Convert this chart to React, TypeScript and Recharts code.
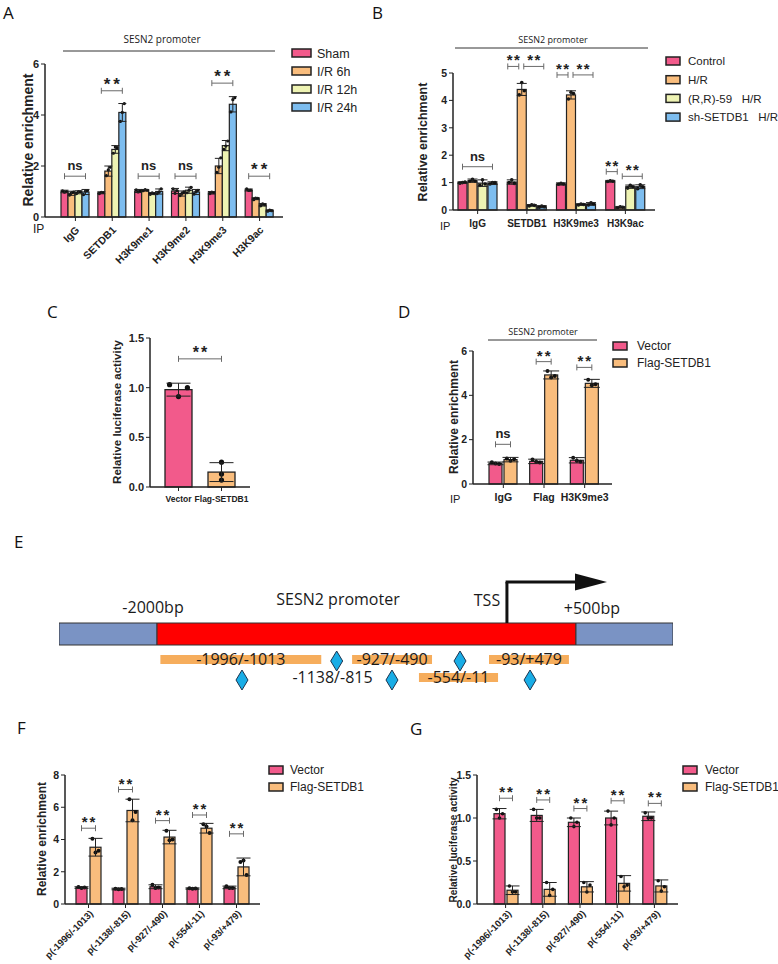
import React from 'react';
import {
  BarChart,
  Bar,
  XAxis,
  YAxis,
  ErrorBar,
  ReferenceLine,
  ReferenceArea,
  ReferenceDot,
  ComposedChart,
  Scatter,
} from 'recharts';

const FONT = '"Liberation Sans", Arial, Helvetica, sans-serif';
const SANS = '"Open Sans", "Noto Sans", sans-serif';
const INK = '#222222';
const PINK = '#f25a8b';
const ORANGE = '#f9bd7d';
const YELLOW = '#eef3b3';
const BLUE = '#7dbdef';

// ---- A: ChIP, I/R time course ----
const aCats = ['IgG', 'SETDB1', 'H3K9me1', 'H3K9me2', 'H3K9me3', 'H3K9ac'];
const aSham = [1.0, 0.95, 1.02, 1.02, 0.95, 1.06];
const aShamErr = [0.05, 0.04, 0.06, 0.1, 0.05, 0.04];
const aShamReps = [[1.03, 0.97, 1.0], [0.92, 0.97, 0.96], [1.06, 0.98, 1.02], [1.1, 0.93, 1.04], [0.92, 0.98, 0.96], [1.1, 1.04, 1.05]];
const aIr6 = [0.93, 1.8, 1.05, 0.92, 2.0, 0.72];
const aIr6Err = [0.08, 0.2, 0.03, 0.1, 0.3, 0.04];
const aIr6Reps = [[0.86, 0.95, 0.98], [1.62, 1.85, 1.95], [1.03, 1.07, 1.05], [0.84, 0.93, 0.99], [1.75, 1.95, 2.32], [0.68, 0.74, 0.73]];
const aIr12 = [0.97, 2.65, 0.92, 1.05, 2.8, 0.48];
const aIr12Err = [0.06, 0.15, 0.04, 0.12, 0.2, 0.05];
const aIr12Reps = [[0.92, 1.0, 0.99], [2.5, 2.75, 2.72], [0.89, 0.95, 0.92], [0.95, 1.05, 1.16], [2.65, 2.78, 2.98], [0.44, 0.52, 0.48]];
const aIr24 = [0.98, 4.1, 1.0, 0.98, 4.42, 0.25];
const aIr24Err = [0.1, 0.35, 0.1, 0.1, 0.3, 0.03];
const aIr24Reps = [[0.88, 1.02, 1.04], [3.75, 4.1, 4.45], [0.92, 0.98, 1.1], [0.9, 1.0, 1.05], [4.12, 4.6, 4.68], [0.23, 0.27, 0.25]];

// ---- B: H/R with inhibitor / knockdown ----
const bCats = ['IgG', 'SETDB1', 'H3K9me3', 'H3K9ac'];
const bControl = [1.0, 1.02, 0.95, 1.05];
const bControlErr = [0.03, 0.08, 0.04, 0.03];
const bControlReps = [[0.98, 1.0, 1.02], [1.0, 1.1, 0.97], [0.94, 0.97, 0.95], [1.04, 1.07, 1.05]];
const bHR = [1.07, 4.4, 4.2, 0.1];
const bHRErr = [0.06, 0.22, 0.15, 0.03];
const bHRReps = [[1.05, 1.12, 1.05], [4.2, 4.65, 4.35], [4.05, 4.3, 4.25], [0.08, 0.12, 0.1]];
const bRR = [0.98, 0.17, 0.2, 0.85];
const bRRErr = [0.12, 0.03, 0.03, 0.06];
const bRRReps = [[0.9, 1.1, 0.95], [0.15, 0.19, 0.17], [0.18, 0.22, 0.2], [0.8, 0.9, 0.85]];
const bSh = [0.98, 0.12, 0.22, 0.85];
const bShErr = [0.05, 0.04, 0.05, 0.07];
const bShReps = [[0.95, 1.0, 1.0], [0.1, 0.14, 0.12], [0.18, 0.26, 0.22], [0.78, 0.92, 0.85]];

// ---- C: luciferase ----
const cCats = ['Vector', 'Flag-SETDB1'];
const cVals = [0.98, 0.15];
const cErrs = [0.065, 0.095];
const cReps = [[1.03, 0.91, 1.0], [0.25, 0.13, 0.07]];
const cColors = [PINK, ORANGE];

// ---- D: ChIP, Flag-SETDB1 ----
const dCats = ['IgG', 'Flag', 'H3K9me3'];
const dVector = [0.93, 1.02, 1.07];
const dVectorErr = [0.06, 0.1, 0.12];
const dVectorReps = [[0.98, 0.92, 0.9], [1.1, 1.0, 0.97], [1.18, 1.05, 1.0]];
const dFlag = [1.1, 4.92, 4.54];
const dFlagErr = [0.1, 0.18, 0.18];
const dFlagReps = [[1.15, 1.05, 1.12], [5.1, 4.8, 4.87], [4.7, 4.45, 4.5]];

// ---- E: promoter map (schematic bp scale, red box = -2000..+500) ----
const eBlocks = [
  { x1: -2585, x2: -2000, color: '#7a93c4' },
  { x1: -2000, x2: 500, color: '#ff0000' },
  { x1: 500, x2: 1079, color: '#7a93c4' },
];
const eFragments = [
  { label: '-1996/-1013', x1: -1980, x2: -1020, row: 1, bar: true },
  { label: '-927/-490', x1: -836, x2: -359, row: 1, bar: true },
  { label: '-93/+479', x1: -19, x2: 458, row: 1, bar: true },
  { label: '-1138/-815', x1: -1190, x2: -716, row: 2, bar: false },
  { label: '-554/-11', x1: -437, x2: 35, row: 2, bar: true },
];
const eSites = [
  { x: -1493, y: 2.0 },
  { x: -928, y: 3.9 },
  { x: -598, y: 2.0 },
  { x: -192, y: 3.9 },
  { x: 226, y: 2.0 },
];
const eLabels = [
  { t: '-2000bp', x: -2024, y: 9.3 },
  { t: 'SESN2 promoter', x: -920, y: 10.1 },
  { t: 'TSS', x: -31, y: 10.0 },
  { t: '+500bp', x: 595, y: 9.2 },
];
const eTss = 88;

// ---- F / G: promoter truncations ----
const fgCats = ['p(-1996/-1013)', 'p(-1138/-815)', 'p(-927/-490)', 'p(-554/-11)', 'p(-93/+479)'];
const fVector = [1.02, 0.93, 1.07, 0.96, 1.03];
const fVectorErr = [0.05, 0.05, 0.12, 0.04, 0.08];
const fVectorReps = [[1.05, 1.0, 1.02], [0.95, 0.92, 0.93], [1.2, 1.0, 1.02], [0.97, 0.95, 0.96], [1.1, 1.0, 1.0]];
const fFlag = [3.52, 5.8, 4.15, 4.7, 2.3];
const fFlagErr = [0.55, 0.7, 0.42, 0.3, 0.55];
const fFlagReps = [[4.05, 3.2, 3.3], [6.5, 5.2, 5.7], [4.55, 3.95, 4.0], [4.95, 4.8, 4.4], [2.6, 2.7, 1.8]];

const gVector = [1.05, 1.03, 0.95, 1.0, 1.02];
const gVectorErr = [0.06, 0.07, 0.05, 0.08, 0.05];
const gVectorReps = [[1.1, 1.0, 1.05], [1.1, 1.0, 1.0], [1.0, 0.9, 0.95], [1.08, 0.92, 1.0], [1.06, 1.0, 1.0]];
const gFlag = [0.16, 0.17, 0.2, 0.24, 0.21];
const gFlagErr = [0.05, 0.08, 0.06, 0.09, 0.07];
const gFlagReps = [[0.21, 0.14, 0.14], [0.25, 0.1, 0.17], [0.25, 0.14, 0.22], [0.32, 0.2, 0.22], [0.27, 0.15, 0.2]];

type Series = { key: string; name: string; color: string; vals: number[]; errs: number[]; reps: number[][] };
type Br = { c: number; f: number; t: number; y: number; s: string; d1?: number; d2?: number };
type Cfg = {
  x: number; y: number; w: number; h: number;
  cats: string[]; series: Series[];
  yMax: number; ticks: number[]; dec?: number;
  padL: number; padR: number; barSize: number; barGap: number;
  brackets: Br[]; tick: any; yTickFs: number; cap: number; dotR: number;
  starFs: number; starLs: number;
};

const Mark = ({ x1, x2, y, s, fs, ls }: { x1: number; x2: number; y: number; s: string; fs: number; ls: number }) => {
  const star = s === '**';
  return (
    <g>
      <line x1={x1} x2={x2} y1={y} y2={y} stroke="#6a6a6a" strokeWidth={1} />
      <line x1={x1} x2={x1} y1={y - 3} y2={y + 3} stroke="#6a6a6a" strokeWidth={1} />
      <line x1={x2} x2={x2} y1={y - 3} y2={y + 3} stroke="#6a6a6a" strokeWidth={1} />
      <text
        x={(x1 + x2) / 2 + (star ? ls / 2 : 0)}
        y={star ? y - 1 : y - 6}
        textAnchor="middle"
        fontFamily={FONT}
        fontWeight="bold"
        fontSize={star ? fs : 13}
        letterSpacing={star ? ls : 0}
        fill={INK}
      >
        {s}
      </text>
    </g>
  );
};

const barShape = (si: number, cfg: Cfg) => (p: any) => {
  const s = cfg.series[si];
  const { x, y, width, height, index } = p;
  const v = s.vals[index];
  const ppu = v > 0 ? height / v : 0;
  const base = y + height;
  const py = (val: number) => base - val * ppu;
  const cx = (k: number) => x + k * (width + cfg.barGap) + width / 2;
  return (
    <g>
      <rect x={x} y={y} width={width} height={height} fill={s.color} stroke={INK} strokeWidth={1.2} />
      {s.reps[index].map((r, k) => (
        <circle key={k} cx={x + width / 2 + (k - 1) * width * 0.28} cy={py(r)} r={cfg.dotR} fill="#111" />
      ))}
      {si === 0 &&
        cfg.brackets
          .filter((b) => b.c === index)
          .map((b, k) => (
            <Mark key={k} x1={cx(b.f) + (b.d1 || 0)} x2={cx(b.t) + (b.d2 || 0)} y={py(b.y)} s={b.s} fs={cfg.starFs} ls={cfg.starLs} />
          ))}
    </g>
  );
};

const rotTick = (fs: number, dx: number, dy: number) => (p: any) => (
  <g transform={`translate(${p.x + dx},${p.y + dy}) rotate(-45)`}>
    <text textAnchor="end" dy="0.35em" fontSize={fs} fontWeight="bold" fontFamily={FONT} fill={INK}>
      {p.payload.value}
    </text>
  </g>
);

const flatTick = (fs: number, dy: number) => (p: any) => (
  <text x={p.x} y={p.y + dy} textAnchor="middle" fontSize={fs} fontWeight="bold" fontFamily={FONT} fill={INK}>
    {p.payload.value}
  </text>
);

const yTick = (fs: number, dec?: number) => (p: any) => (
  <text x={p.x} y={p.y} dy="0.36em" textAnchor="end" fontSize={fs} fontWeight="bold" fontFamily={FONT} fill={INK}>
    {dec ? Number(p.payload.value).toFixed(dec) : String(p.payload.value)}
  </text>
);

const axisProps = {
  axisLine: { stroke: INK, strokeWidth: 1.5 },
  tickLine: { stroke: INK, strokeWidth: 1 },
  tickSize: 4,
};

function Panel({ cfg }: { cfg: Cfg }) {
  const rows = cfg.cats.map((c, i) => {
    const r: Record<string, any> = { name: c };
    cfg.series.forEach((s) => {
      r[s.key] = s.vals[i];
      r[s.key + 'Err'] = s.errs[i];
    });
    return r;
  });
  return (
    <div style={{ position: 'absolute', left: cfg.x - 50, top: cfg.y - 60 }}>
      <BarChart
        width={cfg.w + 60}
        height={cfg.h + 130}
        data={rows}
        margin={{ top: 60, right: 10, bottom: 0, left: 0 }}
        barGap={cfg.barGap}
        barSize={cfg.barSize}
      >
        <XAxis dataKey="name" height={70} interval={0} padding={{ left: cfg.padL, right: cfg.padR }} {...axisProps} tick={cfg.tick} />
        <YAxis
          width={50}
          type="number"
          domain={[0, cfg.yMax]}
          ticks={cfg.ticks}
          interval={0}
          {...axisProps}
          tick={yTick(cfg.yTickFs, cfg.dec)}
        />
        {cfg.series.map((s, si) => (
          <Bar key={s.key} dataKey={s.key} name={s.name} fill={s.color} barSize={cfg.barSize} isAnimationActive={false} shape={barShape(si, cfg)}>
            <ErrorBar dataKey={s.key + 'Err'} width={cfg.cap} stroke={INK} strokeWidth={1} direction="y" />
          </Bar>
        ))}
      </BarChart>
    </div>
  );
}

const aSeries: Series[] = [
  { key: 'sham', name: 'Sham', color: PINK, vals: aSham, errs: aShamErr, reps: aShamReps },
  { key: 'ir6', name: 'I/R 6h', color: ORANGE, vals: aIr6, errs: aIr6Err, reps: aIr6Reps },
  { key: 'ir12', name: 'I/R 12h', color: YELLOW, vals: aIr12, errs: aIr12Err, reps: aIr12Reps },
  { key: 'ir24', name: 'I/R 24h', color: BLUE, vals: aIr24, errs: aIr24Err, reps: aIr24Reps },
];
const bSeries: Series[] = [
  { key: 'ctl', name: 'Control', color: PINK, vals: bControl, errs: bControlErr, reps: bControlReps },
  { key: 'hr', name: 'H/R', color: ORANGE, vals: bHR, errs: bHRErr, reps: bHRReps },
  { key: 'rr', name: '(R,R)-59   H/R', color: YELLOW, vals: bRR, errs: bRRErr, reps: bRRReps },
  { key: 'sh', name: 'sh-SETDB1   H/R', color: BLUE, vals: bSh, errs: bShErr, reps: bShReps },
];
const dSeries: Series[] = [
  { key: 'vec', name: 'Vector', color: PINK, vals: dVector, errs: dVectorErr, reps: dVectorReps },
  { key: 'flag', name: 'Flag-SETDB1', color: ORANGE, vals: dFlag, errs: dFlagErr, reps: dFlagReps },
];
const fSeries: Series[] = [
  { key: 'vec', name: 'Vector', color: PINK, vals: fVector, errs: fVectorErr, reps: fVectorReps },
  { key: 'flag', name: 'Flag-SETDB1', color: ORANGE, vals: fFlag, errs: fFlagErr, reps: fFlagReps },
];
const gSeries: Series[] = [
  { key: 'vec', name: 'Vector', color: PINK, vals: gVector, errs: gVectorErr, reps: gVectorReps },
  { key: 'flag', name: 'Flag-SETDB1', color: ORANGE, vals: gFlag, errs: gFlagErr, reps: gFlagReps },
];

const cfgA: Cfg = {
  x: 45, y: 64, w: 238, h: 153, cats: aCats, series: aSeries, yMax: 6, ticks: [0, 2, 4, 6],
  padL: 12, padR: 5, barSize: 7, barGap: 0,
  brackets: [
    { c: 0, f: 0, t: 3, y: 1.6, s: 'ns' },
    { c: 1, f: 0, t: 3, y: 4.95, s: '**' },
    { c: 2, f: 0, t: 3, y: 1.6, s: 'ns' },
    { c: 3, f: 0, t: 3, y: 1.6, s: 'ns' },
    { c: 4, f: 0, t: 3, y: 5.25, s: '**' },
    { c: 5, f: 0, t: 3, y: 1.6, s: '**' },
  ],
  tick: rotTick(10.5, 2, 5), yTickFs: 11, cap: 4, dotR: 1.6, starFs: 17, starLs: 3,
};
const cfgB: Cfg = {
  x: 453, y: 73, w: 202, h: 137, cats: bCats, series: bSeries, yMax: 5, ticks: [0, 1, 2, 3, 4, 5],
  padL: 0, padR: 5, barSize: 9, barGap: 1,
  brackets: [
    { c: 0, f: 0, t: 3, y: 1.58, s: 'ns' },
    { c: 1, f: 0, t: 1, y: 5.24, s: '**', d1: -4, d2: -3 },
    { c: 1, f: 1, t: 3, y: 5.24, s: '**', d1: 2, d2: 2 },
    { c: 2, f: 0, t: 1, y: 4.93, s: '**', d1: -4, d2: -3 },
    { c: 2, f: 1, t: 3, y: 4.93, s: '**', d1: 2, d2: 2 },
    { c: 3, f: 0, t: 1, y: 1.4, s: '**', d1: -4, d2: -3 },
    { c: 3, f: 1, t: 3, y: 1.23, s: '**', d1: 2, d2: 2 },
  ],
  tick: flatTick(10, 11), yTickFs: 10.5, cap: 5, dotR: 1.8, starFs: 15, starLs: 1.5,
};
const cfgD: Cfg = {
  x: 473, y: 351, w: 139, h: 133, cats: dCats, series: dSeries, yMax: 6, ticks: [0, 2, 4, 6],
  padL: 10, padR: 7, barSize: 13, barGap: 2,
  brackets: [
    { c: 0, f: 0, t: 1, y: 1.79, s: 'ns' },
    { c: 1, f: 0, t: 1, y: 5.52, s: '**' },
    { c: 2, f: 0, t: 1, y: 5.26, s: '**' },
  ],
  tick: flatTick(10.5, 11), yTickFs: 10.5, cap: 8, dotR: 2, starFs: 15, starLs: 2,
};
const cfgF: Cfg = {
  x: 65, y: 775, w: 195, h: 129, cats: fgCats, series: fSeries, yMax: 8, ticks: [0, 2, 4, 6, 8],
  padL: 5, padR: 5, barSize: 11, barGap: 3,
  brackets: [
    { c: 0, f: 0, t: 1, y: 4.7, s: '**' },
    { c: 1, f: 0, t: 1, y: 7.1, s: '**' },
    { c: 2, f: 0, t: 1, y: 5.17, s: '**' },
    { c: 3, f: 0, t: 1, y: 5.52, s: '**' },
    { c: 4, f: 0, t: 1, y: 4.35, s: '**' },
  ],
  tick: rotTick(9.5, 3, 2), yTickFs: 10.5, cap: 7, dotR: 2, starFs: 15, starLs: 2,
};
const cfgG: Cfg = {
  x: 477, y: 775, w: 201, h: 129, cats: fgCats, series: gSeries, yMax: 1.5, ticks: [0, 0.5, 1, 1.5], dec: 1,
  padL: 10, padR: 5, barSize: 11, barGap: 2,
  brackets: [
    { c: 0, f: 0, t: 1, y: 1.23, s: '**' },
    { c: 1, f: 0, t: 1, y: 1.21, s: '**' },
    { c: 2, f: 0, t: 1, y: 1.11, s: '**' },
    { c: 3, f: 0, t: 1, y: 1.2, s: '**' },
    { c: 4, f: 0, t: 1, y: 1.17, s: '**' },
  ],
  tick: rotTick(9.5, 4, 2), yTickFs: 10.5, cap: 7, dotR: 1.8, starFs: 15, starLs: 2,
};

function PanelC() {
  const rows = cCats.map((c, i) => ({ name: c, v: cVals[i], e: cErrs[i] }));
  const shape = (p: any) => {
    const { x, y, width, height, index } = p;
    const ppu = height / cVals[index];
    const base = y + height;
    return (
      <g>
        <rect x={x} y={y} width={width} height={height} fill={cColors[index]} stroke={INK} strokeWidth={1.3} />
        {cReps[index].map((r, k) => (
          <circle key={k} cx={x + width / 2 + (index === 0 ? (k - 1) * width * 0.33 : 0)} cy={base - r * ppu} r={2.6} fill="#111" />
        ))}
      </g>
    );
  };
  return (
    <div style={{ position: 'absolute', left: 100, top: 278 }}>
      <BarChart width={160} height={279} data={rows} margin={{ top: 60, right: 10, bottom: 0, left: 0 }} barSize={27}>
        <XAxis dataKey="name" height={70} interval={0} padding={{ left: 7, right: 7 }} {...axisProps} tick={flatTick(8.5, 9)} />
        <YAxis
          width={50}
          type="number"
          domain={[0, 1.5]}
          ticks={[0, 0.5, 1, 1.5]}
          interval={0}
          {...axisProps}
          tick={yTick(11, 1)}
        />
        <Bar dataKey="v" isAnimationActive={false} barSize={27} shape={shape}>
          <ErrorBar dataKey="e" width={12} stroke={INK} strokeWidth={1} direction="y" />
        </Bar>
        <ReferenceLine
          segment={[{ x: cCats[0], y: 1.29 }, { x: cCats[1], y: 1.29 }]}
          shape={(p: any) => <Mark x1={p.x1} x2={p.x2} y={p.y1} s="**" fs={16} ls={2} />}
        />
      </BarChart>
    </div>
  );
}

const Diamond = (p: any) => (
  <polygon
    points={`${p.cx},${p.cy - 10} ${p.cx + 6},${p.cy} ${p.cx},${p.cy + 10} ${p.cx - 6},${p.cy}`}
    fill="#19ade6"
    stroke="#1d3550"
    strokeWidth={1}
  />
);

function PanelE() {
  const rowY = (row: number) => (row === 1 ? [3.6, 4.5] : [1.8, 2.7]);
  return (
    <div style={{ position: 'absolute', left: 59, top: 570 }}>
      <ComposedChart width={614} height={130} data={eSites} margin={{ top: 0, right: 0, bottom: 0, left: 0 }}>
        <XAxis type="number" dataKey="x" domain={[-2585, 1079]} hide allowDataOverflow />
        <YAxis type="number" dataKey="y" domain={[0, 13]} hide allowDataOverflow />
        {eBlocks.map((b, i) => (
          <ReferenceArea key={'b' + i} x1={b.x1} x2={b.x2} y1={5.5} y2={7.7} fill={b.color} fillOpacity={1} stroke="#333" strokeWidth={1} />
        ))}
        {eFragments.map((f, i) => (
          <ReferenceArea
            key={'f' + i}
            x1={f.x1}
            x2={f.x2}
            y1={rowY(f.row)[0]}
            y2={rowY(f.row)[1]}
            fill={f.bar ? '#f6ad5c' : 'none'}
            fillOpacity={1}
            stroke="none"
            label={{ value: f.label, position: 'center', fontSize: 16, fontFamily: SANS, fill: '#1a1a1a' }}
          />
        ))}
        {eLabels.map((l, i) => (
          <ReferenceDot
            key={'l' + i}
            x={l.x}
            y={l.y}
            r={1}
            fill="none"
            stroke="none"
            label={{ value: l.t, position: 'center', fontSize: 16, fontFamily: SANS, fill: '#1a1a1a' }}
          />
        ))}
        <ReferenceLine segment={[{ x: eTss, y: 7.7 }, { x: eTss, y: 11.8 }]} stroke="#111" strokeWidth={3} />
        <ReferenceLine segment={[{ x: eTss - 8, y: 11.8 }, { x: 500, y: 11.8 }]} stroke="#111" strokeWidth={3} />
        <ReferenceDot
          x={685}
          y={11.8}
          r={1}
          shape={(p: any) => (
            <polygon points={`${p.cx},${p.cy} ${p.cx - 32},${p.cy - 8.5} ${p.cx - 32},${p.cy + 8.5}`} fill="#111" />
          )}
        />
        <Scatter dataKey="y" isAnimationActive={false} shape={Diamond} />
      </ComposedChart>
    </div>
  );
}

const LegendList = ({ x, tx, y0, dy, iw, fs, items }: { x: number; tx: number; y0: number; dy: number; iw: number; fs: number; items: Series[] }) => (
  <g>
    {items.map((s, i) => (
      <g key={s.key}>
        <rect x={x} y={y0 + i * dy - 4} width={iw} height={8} fill={s.color} stroke={INK} strokeWidth={1.5} />
        <text x={tx} y={y0 + i * dy + fs * 0.36} fontSize={fs} fontFamily={FONT} fill={INK} style={{ whiteSpace: 'pre' }}>
          {s.name}
        </text>
      </g>
    ))}
  </g>
);

const YLabel = ({ x, y, t, fs }: { x: number; y: number; t: string; fs: number }) => (
  <text transform={`translate(${x},${y}) rotate(-90)`} textAnchor="middle" dominantBaseline="central" fontSize={fs} fontWeight="bold" fontFamily={FONT} fill={INK}>
    {t}
  </text>
);

const Header = ({ x1, x2, y, tx, ty, fs }: { x1: number; x2: number; y: number; tx: number; ty: number; fs: number }) => (
  <g>
    <text x={tx} y={ty} textAnchor="middle" fontSize={fs} fontFamily={SANS} fill="#1a1a1a">
      SESN2 promoter
    </text>
    <line x1={x1} x2={x2} y1={y} y2={y} stroke="#333" strokeWidth={1} />
  </g>
);

const letters = [
  { t: 'A', x: 3, y: 19 },
  { t: 'B', x: 372, y: 19 },
  { t: 'C', x: 47, y: 318 },
  { t: 'D', x: 398, y: 318 },
  { t: 'E', x: 14, y: 548 },
  { t: 'F', x: 17, y: 734 },
  { t: 'G', x: 410, y: 735 },
];

export default function App() {
  return (
    <div style={{ position: 'absolute', left: 0, top: 0, width: 778, height: 964, background: '#fff', overflow: 'hidden' }}>
      <Panel cfg={cfgA} />
      <Panel cfg={cfgB} />
      <PanelC />
      <Panel cfg={cfgD} />
      <PanelE />
      <Panel cfg={cfgF} />
      <Panel cfg={cfgG} />
      <svg width={778} height={964} style={{ position: 'absolute', left: 0, top: 0, pointerEvents: 'none' }}>
        {letters.map((l) => (
          <text key={l.t} x={l.x} y={l.y} fontSize={17} fontFamily={SANS} fill="#111">
            {l.t}
          </text>
        ))}
        <Header x1={63} x2={275} y={51} tx={162} ty={43} fs={10} />
        <Header x1={455} x2={648} y={48} tx={553} ty={42.5} fs={9} />
        <Header x1={488} x2={597} y={340} tx={543} ty={334.5} fs={9} />
        <YLabel x={28} y={140} t="Relative enrichment" fs={14} />
        <YLabel x={423} y={142} t="Relative enrichment" fs={12.5} />
        <YLabel x={117} y={412} t="Relative luciferase activity" fs={11.5} />
        <YLabel x={454} y={417} t="Relative enrichment" fs={12} />
        <YLabel x={42} y={839} t="Relative enrichment" fs={12} />
        <YLabel x={453} y={840} t="Relative luciferase activity" fs={10} />
        <text x={33} y={233} fontSize={12} fontFamily={FONT} fill={INK}>IP</text>
        <text x={440} y={230} fontSize={11} fontFamily={FONT} fill={INK}>IP</text>
        <text x={450} y={503} fontSize={11} fontFamily={FONT} fill={INK}>IP</text>
        <LegendList x={292} tx={317} y0={53} dy={18} iw={19} fs={12.5} items={aSeries} />
        <LegendList x={666} tx={688} y0={61} dy={18.7} iw={14} fs={11.5} items={bSeries} />
        <LegendList x={613} tx={637} y0={346} dy={17} iw={14} fs={12} items={dSeries} />
        <LegendList x={269} tx={290} y0={770} dy={17} iw={14} fs={12} items={fSeries} />
        <LegendList x={683} tx={705} y0={770} dy={17} iw={14} fs={12} items={gSeries} />
      </svg>
    </div>
  );
}
